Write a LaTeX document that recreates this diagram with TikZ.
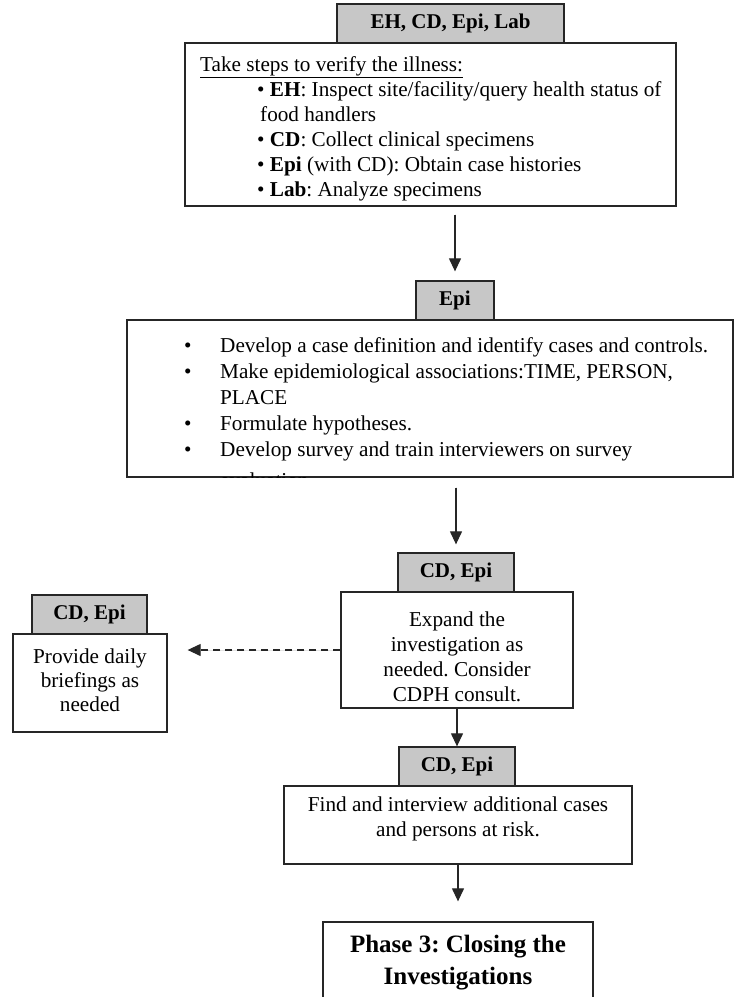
\documentclass[tikz,border=0pt]{standalone}
\usepackage{fontspec}
\setmainfont{Liberation Serif}
\usetikzlibrary{arrows.meta}
\frenchspacing
\begin{document}
\begin{tikzpicture}[x=1pt,y=-1pt,
  box/.style={draw=black!85,line width=1.3pt,fill=white,inner sep=0pt,rectangle},
  hdr/.style={draw=black!85,line width=1.3pt,fill=black!22,inner sep=0pt,rectangle,font=\fontsize{21}{25}\selectfont\bfseries},
  txt/.style={anchor=base west,inner sep=0pt,font=\fontsize{21.2}{25}\selectfont},
  ctxt/.style={anchor=base,inner sep=0pt,font=\fontsize{21.2}{25}\selectfont},
  btxt/.style={anchor=base,inner sep=0pt,font=\fontsize{25}{30}\selectfont\bfseries},
  arr/.style={-{Triangle[length=13pt,width=12pt]},line width=1.2pt,draw=black!85,fill=black!85},
  darr/.style={arr,dash pattern=on 7pt off 5pt}]
\useasboundingbox (0,0) rectangle (734,997);
\begin{scope}
\clip (0,0) rectangle (734,997);
% boxes
\node[box,minimum width=491,minimum height=163] (b1) at (430.5,124.5) {};
\node[hdr,minimum width=227,minimum height=39] (h1) at (450.5,23.5) {EH, CD, Epi, Lab};
\node[box,minimum width=606,minimum height=157] (b2) at (430,398.5) {};
\node[hdr,minimum width=78,minimum height=39] (h2) at (455,300.5) {Epi};
\node[box,minimum width=232,minimum height=116] (b3) at (457,650) {};
\node[hdr,minimum width=116,minimum height=39] (h3) at (456,572.5) {CD, Epi};
\node[box,minimum width=154,minimum height=98] (lb) at (90,683) {};
\node[hdr,minimum width=115,minimum height=39] (lh) at (89.5,614.5) {CD, Epi};
\node[box,minimum width=348,minimum height=78] (b4) at (458,825) {};
\node[hdr,minimum width=116,minimum height=39] (h4) at (457,766.5) {CD, Epi};
\node[box,minimum width=270,minimum height=88] (p3) at (458,966) {};

% box 1 text
\node[txt] (t11) at (200,71) {\underline{Take steps to verify the illness:}};
\node[txt] (t12) at (257,96) {\textbullet\ \textbf{EH}: Inspect site/facility/query health status of};
\node[txt] (t13) at (260,121) {food handlers};
\node[txt] (t14) at (257,146) {\textbullet\ \textbf{CD}: Collect clinical specimens};
\node[txt] (t15) at (257,171) {\textbullet\ \textbf{Epi} (with CD): Obtain case histories};
\node[txt] (t16) at (257,196) {\textbullet\ \textbf{Lab}: Analyze specimens};

% box 2 text
\node[txt] (u1) at (184,352) {\textbullet};
\node[txt] (t21) at (220,352) {Develop a case definition and identify cases and controls.};
\node[txt] (u2) at (184,378) {\textbullet};
\node[txt] (t22) at (220,378) {Make epidemiological associations:TIME, PERSON,};
\node[txt] (t23) at (220,404) {PLACE};
\node[txt] (u3) at (184,430) {\textbullet};
\node[txt] (t24) at (220,430) {Formulate hypotheses.};
\node[txt] (u4) at (184,456) {\textbullet};
\node[txt] (t25) at (220,456) {Develop survey and train interviewers on survey};
\begin{scope}
\clip (b2.north west) rectangle (b2.south east);
\node[txt] (t26) at (220,487) {evaluation};
\end{scope}

% box 3 text
\node[ctxt] (t31) at (457,626) {Expand the};
\node[ctxt] (t32) at (457,651) {investigation as};
\node[ctxt] (t33) at (457,676) {needed. Consider};
\node[ctxt] (t34) at (457,701) {CDPH consult.};

% left box text
\node[ctxt] (l1) at (90,663) {Provide daily};
\node[ctxt] (l2) at (90,687) {briefings as};
\node[ctxt] (l3) at (90,711) {needed};

% box 4 text
\node[ctxt] (t41) at (458,811) {Find and interview additional cases};
\node[ctxt] (t42) at (458,836) {and persons at risk.};

% phase 3 text
\node[btxt] (p31) at (458,952) {Phase 3: Closing the};
\node[btxt] (p32) at (458,984) {Investigations};

% connectors
\draw[arr] ([yshift=-8pt]b1.south -| h2.north) -- ([yshift=9pt]h2.north);
\draw[arr] ([yshift=-10pt]b2.south -| h3.north) -- ([yshift=8pt]h3.north);
\draw[arr] (b3.south -| h4.north) -- (h4.north);
\draw[arr] (b4.south) -- ([yshift=20pt]p3.north);
\draw[darr] (b3.west) -- ([xshift=20pt]lb.east |- b3.west);
\end{scope}
\end{tikzpicture}
\end{document}
